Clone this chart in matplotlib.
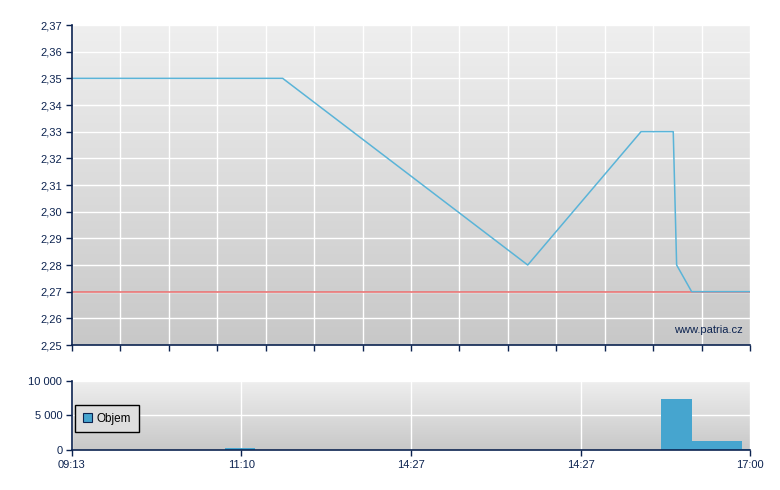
import numpy as np
import matplotlib.pyplot as plt

# price line (x in slot units, 0..28 across the session)
price_x = [0, 8.70, 18.82, 23.50, 24.83, 24.97, 25.59, 28]
price_y = [2.35, 2.35, 2.28, 2.33, 2.33, 2.28, 2.27, 2.27]
ref_price = 2.27

# volume bars
vol_left = [6.32, 24.32, 25.59, 27.66]
vol_width = [1.24, 1.27, 2.07, 0.34]
vol_h = [300, 7300, 1300, 80]

xlabels = ['09:13', '11:10', '14:27', '14:27', '17:00']

navy = '#0c2350'
plt.rcParams['font.family'] = ['Liberation Sans', 'DejaVu Sans']
plt.rcParams['font.size'] = 8

fig = plt.figure(figsize=(7.8, 4.9), dpi=100)
ax = fig.add_axes([72/780, 1-345/490, 678/780, 320/490])
ax2 = fig.add_axes([72/780, 1-450/490, 678/780, 69.5/490])

def gradient(a, lo, hi):
	g = np.linspace(0, 1, 256).reshape(-1, 1)
	cols = np.array([0.937, 0.937, 0.937]) * (1-g[..., None]) + np.array([0.784, 0.784, 0.784]) * g[..., None]
	a.imshow(cols, extent=[0, 28, lo, hi], aspect='auto', zorder=0, origin='upper')

def style(a):
	for s in ['top', 'right']:
		a.spines[s].set_visible(False)
	for s in ['left', 'bottom']:
		a.spines[s].set_color(navy)
		a.spines[s].set_linewidth(1.2)
		a.spines[s].set_zorder(5)
	a.tick_params(colors=navy, labelcolor=navy, length=4, width=1, labelsize=8, pad=3)
	a.grid(True, color='white', lw=1)
	a.set_axisbelow(False)

# top panel
gradient(ax, 2.25, 2.37)
ax.plot(price_x, price_y, color='#5ab4d8', lw=1.1, zorder=4)
ax.axhline(ref_price, color='#e86a6a', lw=1.1, zorder=3)
ax.set_xlim(0, 28)
ax.set_ylim(2.25, 2.37)
yt = np.round(np.arange(2.25, 2.3701, 0.01), 2)
ax.set_yticks(yt)
ax.set_yticklabels([('%.2f' % v).replace('.', ',') for v in yt])
ax.set_xticks(np.arange(0, 28.1, 2))
ax.set_xticklabels([])
style(ax)
ax.text(27.7, 2.2556, 'www.patria.cz', color=navy, fontsize=8, ha='right', va='center', zorder=4)

# volume panel
gradient(ax2, 0, 10000)
ax2.bar(vol_left, vol_h, width=vol_width, align='edge', color='#46a5cf', zorder=3, lw=0)
ax2.set_xlim(0, 28)
ax2.set_ylim(0, 10000)
ax2.set_yticks([0, 5000, 10000])
ax2.set_yticklabels(['0', '5 000', '10 000'])
ax2.set_xticks(np.arange(0, 28.1, 7))
ax2.set_xticklabels(xlabels)
style(ax2)
leg = ax2.legend(['Objem'], loc='upper left', bbox_to_anchor=(0.0044, 0.647), borderaxespad=0,
	frameon=True, fancybox=False, handlelength=0.8, handleheight=0.8, handletextpad=0.4,
	borderpad=0.65, fontsize=8.5)
leg.set_zorder(6)
leg.get_frame().set_edgecolor('black')
leg.get_frame().set_facecolor('#dedede')
leg.get_frame().set_alpha(None)
leg.get_frame().set_linewidth(1)
leg.legend_handles[0].set_edgecolor(navy)
leg.legend_handles[0].set_linewidth(0.8)

fig.savefig('out.png', dpi=100)
